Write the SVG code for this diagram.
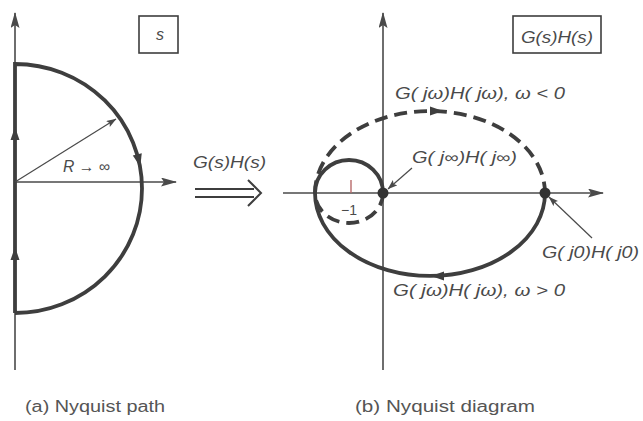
<svg xmlns="http://www.w3.org/2000/svg" width="643" height="421" viewBox="0 0 643 421">
<style>
.ax{stroke:#4a4a4a;stroke-width:1.6;fill:none}
.thick{stroke:#3e3e3e;stroke-width:3.8;fill:none;stroke-linecap:butt}
.dash{stroke:#3e3e3e;stroke-width:3.8;fill:none;stroke-dasharray:13 7}
.thin{stroke:#4a4a4a;stroke-width:1.2;fill:none}
.box{stroke:#3e3e3e;stroke-width:1.6;fill:none}
.head{fill:#3e3e3e;stroke:none}
.m{font-family:"Liberation Sans",Arial,sans-serif;font-style:italic;font-size:16px;fill:#4a4a4a}
.cap{font-family:"Liberation Sans",Arial,sans-serif;font-size:16px;fill:#555}
.num{font-family:"Liberation Sans",Arial,sans-serif;font-size:14px;fill:#4a4a4a}
</style>
<defs>
<marker id="axh" viewBox="0 0 16 9" refX="15" refY="4.5" markerWidth="16" markerHeight="9" markerUnits="userSpaceOnUse" orient="auto">
<path d="M0,0 L16,4.5 L0,9 L3,4.5 z" fill="#4a4a4a"/>
</marker>
<marker id="ptr" viewBox="0 0 10 7" refX="9.5" refY="3.5" markerWidth="10" markerHeight="7" markerUnits="userSpaceOnUse" orient="auto">
<path d="M0,0 L10,3.5 L0,7 L2,3.5 z" fill="#4a4a4a"/>
</marker>
</defs>
<rect width="643" height="421" fill="#ffffff"/>

<g id="panel-a">
<g id="axes-a">
<line class="ax" x1="15" y1="370" x2="15" y2="13" marker-end="url(#axh)"/>
<line class="ax" x1="15" y1="182" x2="176" y2="182" marker-end="url(#axh)"/>
</g>
<g id="nyquist-path">
<path class="thick" d="M15,313 L15,64 A127,124.5 0 0 1 15,313"/>
<polygon class="head" points="15,127 10.5,140 19.5,140"/>
<polygon class="head" points="15,247 10.5,260 19.5,260"/>
<polygon class="head" points="140.2,166.5 141.8,153.2 132.8,155.4"/>
</g>
<g id="radius">
<line class="thin" x1="15" y1="182" x2="116" y2="119" marker-end="url(#ptr)"/>
<text class="m" x="63" y="172" font-size="14" textLength="47" lengthAdjust="spacingAndGlyphs">R → ∞</text>
</g>
<g id="box-s">
<rect class="box" x="139" y="16" width="39" height="37"/>
<text class="m" x="160" y="40" font-size="15" text-anchor="middle">s</text>
</g>
</g>

<g id="mapping">
<text class="m" x="193" y="168" textLength="73" lengthAdjust="spacingAndGlyphs">G(s)H(s)</text>
<path d="M195,189 L254,189 M195,197 L254,197 M248,180 L261,193 L248,206" fill="none" stroke="#3e3e3e" stroke-width="2"/>
</g>

<g id="panel-b">
<g id="axes-b">
<line class="ax" x1="383" y1="370" x2="383" y2="13" marker-end="url(#axh)"/>
<line class="ax" x1="283" y1="193" x2="603" y2="193" marker-end="url(#axh)"/>
<line x1="351" y1="180" x2="351" y2="193" stroke="#b86a6a" stroke-width="1.4"/>
<text class="num" x="349" y="215" text-anchor="middle">−1</text>
</g>
<g id="box-gh">
<rect class="box" x="513" y="16" width="88" height="37"/>
<text class="m" x="521" y="43" textLength="72" lengthAdjust="spacingAndGlyphs">G(s)H(s)</text>
</g>
<g id="curve-pos">
<path class="thick" d="M545,193 A115,83 0 0 1 315,193 A34,33 0 0 1 383,193"/>
<polygon class="head" points="431,276 444,271.5 444,280.5"/>
</g>
<g id="curve-neg">
<path class="dash" d="M383,193 A34,30 0 0 1 315,193 A115,82 0 0 1 545,193"/>
<polygon class="head" points="443,111 430,106.5 430,115.5"/>
</g>
<g id="points">
<circle cx="383" cy="193" r="5.5" fill="#333"/>
<circle cx="545" cy="193" r="5.5" fill="#333"/>
</g>
<g id="connectors">
<line class="thin" x1="412" y1="168" x2="388" y2="189" marker-end="url(#ptr)"/>
<line class="thin" x1="592" y1="238" x2="549" y2="197" marker-end="url(#ptr)"/>
</g>
<g id="labels-b">
<text class="m" x="395" y="99" textLength="170" lengthAdjust="spacingAndGlyphs">G( jω)H( jω), ω &lt; 0</text>
<text class="m" x="412" y="163" textLength="105" lengthAdjust="spacingAndGlyphs">G( j∞)H( j∞)</text>
<text class="m" x="542" y="258" textLength="97" lengthAdjust="spacingAndGlyphs">G( j0)H( j0)</text>
<text class="m" x="393" y="296" textLength="172" lengthAdjust="spacingAndGlyphs">G( jω)H( jω), ω &gt; 0</text>
</g>
</g>

<g id="captions">
<text class="cap" x="25" y="412" textLength="140" lengthAdjust="spacingAndGlyphs">(a)  Nyquist path</text>
<text class="cap" x="355" y="412" textLength="180" lengthAdjust="spacingAndGlyphs">(b)  Nyquist diagram</text>
</g>
</svg>
